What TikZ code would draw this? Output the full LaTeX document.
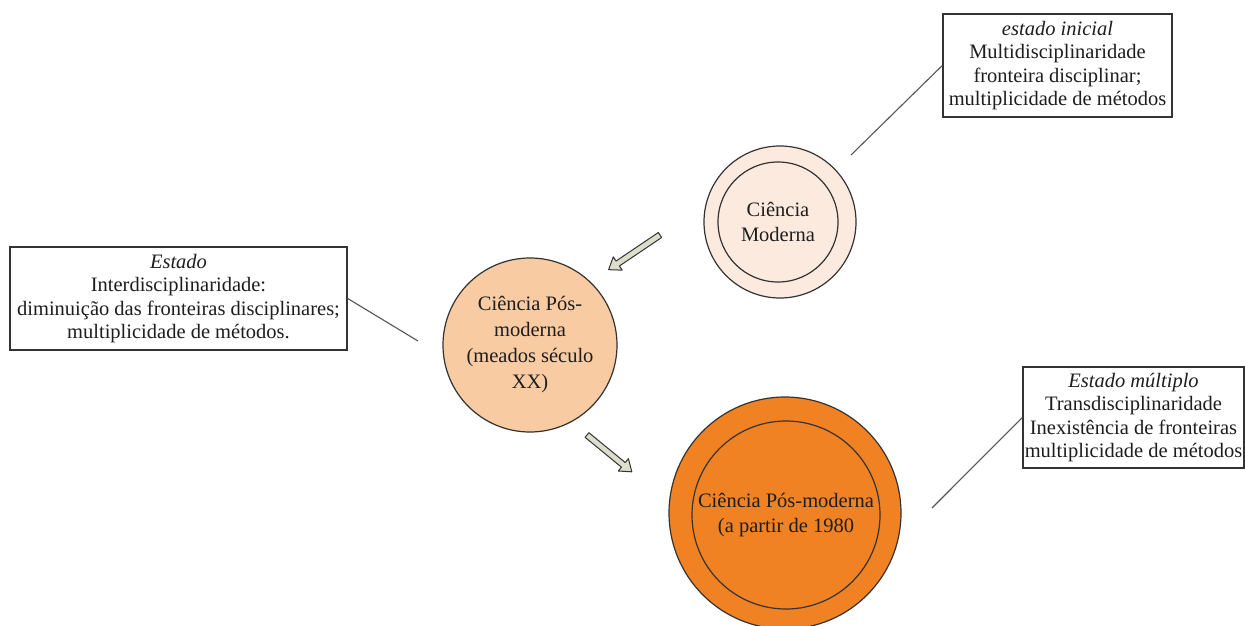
\documentclass[tikz,border=0pt]{standalone}
\usepackage{fontspec}
\setmainfont{Liberation Serif}
\begin{document}
\definecolor{inkc}{HTML}{1E1E1E}
\definecolor{edgec}{HTML}{333333}
\definecolor{leadc}{HTML}{555555}
\definecolor{palepeach}{HTML}{FDEADF}
\definecolor{softorange}{HTML}{F9CBA2}
\definecolor{deeporange}{HTML}{F08224}
\definecolor{arrowfill}{HTML}{DCDDCB}
\newcommand{\hollowarrow}[4]{% tail x, tail y, angle, length
  \begin{scope}[shift={(#1,#2)},rotate=#3]
    \draw[arrowstyle] (0,-3) -- ({#4-11},-3) -- ({#4-11},-8) -- (#4,0)
      -- ({#4-11},8) -- ({#4-11},3) -- (0,3) -- cycle;
  \end{scope}}
\begin{tikzpicture}[x=1pt,y=-1pt,
  font=\fontsize{20.5}{23.5}\selectfont,
  infobox/.style={draw=edgec,line width=1.4pt,fill=white,text=inkc,
    align=center,inner sep=0pt},
  disc/.style={circle,draw=edgec,line width=1.2pt,inner sep=0pt},
  leader/.style={draw=leadc,line width=1.1pt},
  arrowstyle/.style={draw=edgec,fill=arrowfill,line width=1pt,line join=round}]
\useasboundingbox[fill=white] (0,0) rectangle (1245,626);

% circles
\node[disc,fill=palepeach,minimum size=152pt] (mod) at (780,222) {};
\node[disc,fill=palepeach,minimum size=120pt,text=inkc,align=center,
  font=\fontsize{20.5}{25}\selectfont] (modin) at (778,222) {Ciência\\Moderna};

\node[disc,fill=softorange,minimum size=174pt,text=inkc,align=center,
  font=\fontsize{20.5}{26}\selectfont] (pm) at (530,345)
  {Ciência Pós-\\moderna\\(meados século\\XX)};

\node[disc,fill=deeporange,minimum size=232pt] (pm2) at (785,513) {};
\node[disc,fill=deeporange,minimum size=188pt,text=inkc,align=center,
  font=\fontsize{20.5}{25}\selectfont] (pm2in) at (786,515)
  {Ciência Pós-moderna\\(a partir de 1980};

% text boxes
\node[infobox,minimum width=229pt,minimum height=103pt] (tr) at (1057.5,65.5)
  {\textit{estado inicial}\\Multidisciplinaridade\\fronteira disciplinar;\\multiplicidade de métodos};
\node[infobox,minimum width=337pt,minimum height=103pt] (lb) at (178.5,298.5)
  {\textit{Estado}\\Interdisciplinaridade:\\diminuição das fronteiras disciplinares;\\multiplicidade de métodos.};
\node[infobox,minimum width=221pt,minimum height=101pt] (rb) at (1133.5,417.5)
  {\textit{Estado múltiplo}\\Transdisciplinaridade\\Inexistência de fronteiras\\multiplicidade de métodos};

% leader lines
\coordinate (lt) at (851,155);
\coordinate (ll) at (418,341);
\coordinate (lr) at (932,508);
\draw[leader] (lt) -- (tr.west);
\draw[leader] (lb.east) -- (ll);
\draw[leader] (lr) -- (rb.west);

% transition arrows
\hollowarrow{660}{235}{214}{62}
\hollowarrow{587}{435}{-39.4}{58}
\end{tikzpicture}
\end{document}
